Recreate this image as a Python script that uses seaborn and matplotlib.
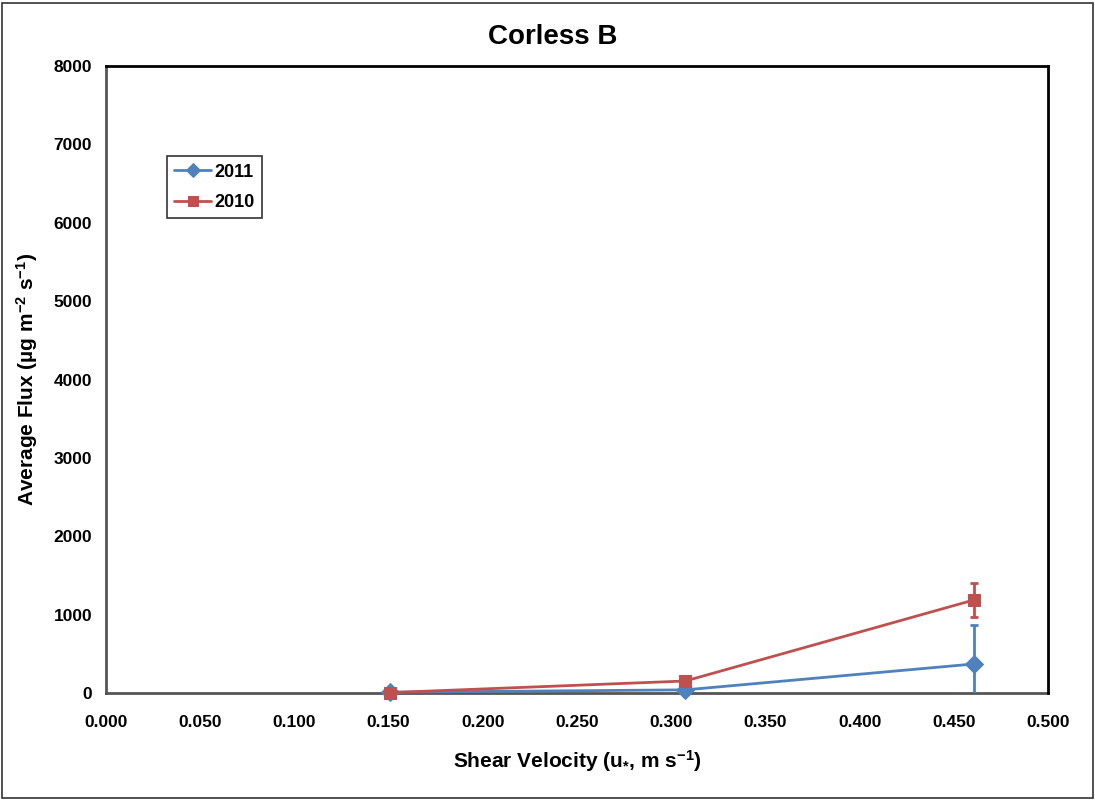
import matplotlib
matplotlib.use("Agg")
import matplotlib.pyplot as plt
import seaborn as sns
import pandas as pd
import numpy as np

# Data
shear_velocity = [0.1505, 0.3075, 0.4605]
flux_2011 = [10, 40, 370]
err_2011 = [5, 10, 500]
flux_2010 = [5, 153, 1186]
err_2010 = [5, 15, 220]

x_ticks = [0.0, 0.05, 0.10, 0.15, 0.20, 0.25, 0.30, 0.35, 0.40, 0.45, 0.50]
y_ticks = [0, 1000, 2000, 3000, 4000, 5000, 6000, 7000, 8000]

sns.set_style("white")
plt.rcParams['font.family'] = ['Liberation Sans', 'DejaVu Sans']
plt.rcParams['font.weight'] = 'bold'
plt.rcParams['mathtext.fontset'] = 'custom'
plt.rcParams['mathtext.bf'] = 'Liberation Sans:bold'
plt.rcParams['mathtext.rm'] = 'Liberation Sans:bold'
plt.rcParams['mathtext.default'] = 'bf'
plt.rcParams['text.color'] = 'black'
plt.rcParams['axes.labelcolor'] = 'black'
plt.rcParams['xtick.color'] = 'black'
plt.rcParams['ytick.color'] = 'black'

blue = "#4F81BD"
red = "#C0504D"

fig = plt.figure(figsize=(10.95, 8.0), dpi=100)
ax = fig.add_axes([106/1095, 1-693/800, (1048-106)/1095, (693-66)/800])

df = pd.DataFrame({
    "x": shear_velocity * 2,
    "y": flux_2011 + flux_2010,
    "series": ["2011"] * 3 + ["2010"] * 3,
})

# error bars
ax.errorbar(shear_velocity, flux_2011, yerr=err_2011, fmt='none', ecolor=blue,
            elinewidth=2, capsize=3, capthick=2, zorder=2)
ax.errorbar(shear_velocity, flux_2010, yerr=err_2010, fmt='none', ecolor=red,
            elinewidth=2, capsize=3, capthick=2, zorder=3)

sns.lineplot(data=df[df.series == "2011"], x="x", y="y", color=blue, marker="D",
             markersize=9, markeredgecolor=blue, linewidth=2, ax=ax, label="2011",
             zorder=4, clip_on=False)
sns.lineplot(data=df[df.series == "2010"], x="x", y="y", color=red, marker="s",
             markersize=9, markeredgecolor=red, linewidth=2, ax=ax, label="2010",
             zorder=5, clip_on=False)

ax.set_xlim(0, 0.5)
ax.set_ylim(0, 8000)
ax.set_xticks(x_ticks)
ax.set_xticklabels([f"{t:.3f}" for t in x_ticks], fontsize=12.5, fontweight='bold')
ax.set_yticks(y_ticks)
ax.set_yticklabels([str(t) for t in y_ticks], fontsize=12.5, fontweight='bold')
ax.tick_params(axis='x', direction='out', length=5, color='#888888', pad=11, labelcolor='black')
ax.tick_params(axis='y', direction='out', length=5, color='#888888', pad=5, labelcolor='black')

for s in ['top', 'right']:
    ax.spines[s].set_color('black')
    ax.spines[s].set_linewidth(2)
for s in ['left', 'bottom']:
    ax.spines[s].set_color('#555555')
    ax.spines[s].set_linewidth(2)
    ax.spines[s].set_zorder(1)

ax.set_xlabel("Shear Velocity (u$_{*}$, m s$^{-1}$)", fontsize=15, fontweight='bold',
              labelpad=13, color='black')
ax.set_ylabel("Average Flux (\u00b5g m$^{-2}$ s$^{-1}$)", fontsize=15, fontweight='bold',
              labelpad=10, color='black')
fig.suptitle("Corless B", x=0.505, y=0.97, fontsize=20, fontweight='bold', color='black')

leg = ax.legend(loc='upper left', bbox_to_anchor=(0.065, 0.856), frameon=True,
                fancybox=False, edgecolor='black', fontsize=13, handlelength=2.0,
                borderpad=0.4, labelspacing=0.75, handletextpad=0.2, borderaxespad=0,
                markerscale=0.75)
leg.get_frame().set_linewidth(1.2)
for t in leg.get_texts():
    t.set_fontweight('bold')
    t.set_color('black')

# figure border
fig.patches.append(matplotlib.patches.Rectangle((0.002, 0.003), 0.996, 0.993,
                   transform=fig.transFigure, fill=False, edgecolor='#333333', linewidth=1.2))

fig.savefig("out.png", dpi=100)
